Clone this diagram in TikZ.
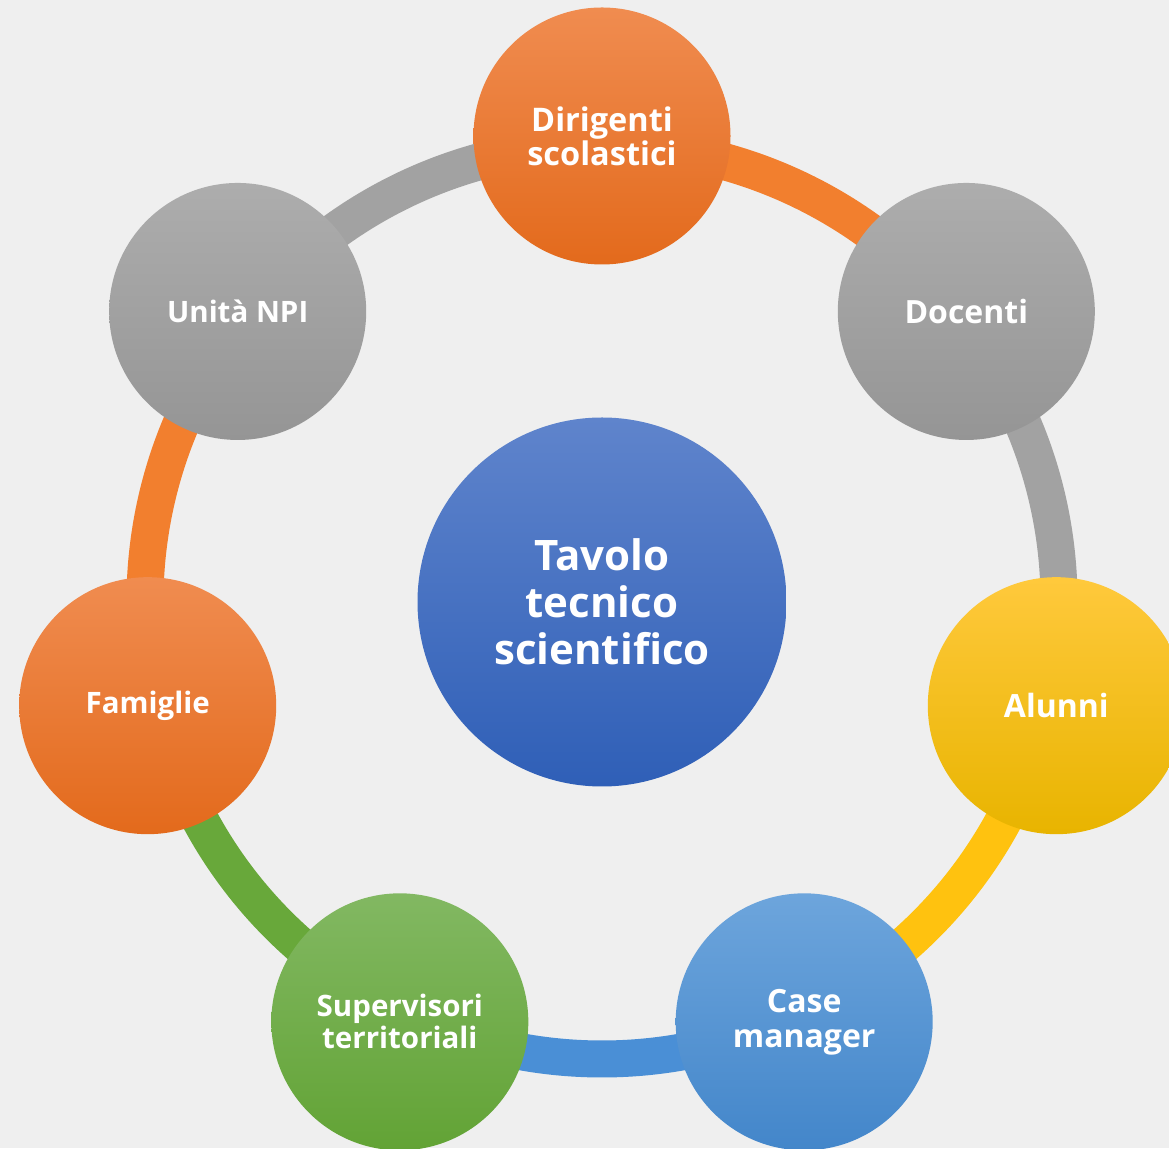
\documentclass[tikz,border=0pt]{standalone}
\usepackage{fontspec}
\setmainfont{Open Sans}
\definecolor{paper}{HTML}{EFEFEF}
\definecolor{orgTop}{HTML}{F08C50}
\definecolor{orgMid}{HTML}{F47B28}
\definecolor{orgBot}{HTML}{E36A1C}
\definecolor{gryTop}{HTML}{ADADAD}
\definecolor{gryBot}{HTML}{959595}
\definecolor{ylwTop}{HTML}{FFC93C}
\definecolor{ylwMid}{HTML}{FFC507}
\definecolor{ylwBot}{HTML}{E8B400}
\definecolor{bluTop}{HTML}{6DA5DC}
\definecolor{bluBot}{HTML}{4386CA}
\definecolor{grnTop}{HTML}{82B862}
\definecolor{grnBot}{HTML}{62A335}
\definecolor{hubTop}{HTML}{5F84CC}
\definecolor{hubMid}{HTML}{3F72CC}
\definecolor{hubBot}{HTML}{2F5FB7}
\definecolor{orgArc}{HTML}{F27F2E}
\definecolor{gryArc}{HTML}{A2A2A2}
\definecolor{ylwArc}{HTML}{FFC20F}
\definecolor{bluArc}{HTML}{4A8FD6}
\definecolor{grnArc}{HTML}{68A83A}

\begin{document}
\begin{tikzpicture}[x=1pt, y=1pt]
  \tikzstyle{every node}=[circle, inner sep=0pt, text=white, align=center]
  \tikzstyle{ball}=[minimum size=257pt]
  \tikzstyle{orgball}=[ball, top color=orgTop, middle color=orgMid, bottom color=orgBot]
  \tikzstyle{gryball}=[ball, top color=gryTop, bottom color=gryBot]
  \tikzstyle{ylwball}=[ball, top color=ylwTop, middle color=ylwMid, bottom color=ylwBot]
  \tikzstyle{bluball}=[ball, top color=bluTop, bottom color=bluBot]
  \tikzstyle{grnball}=[ball, top color=grnTop, bottom color=grnBot]
  \tikzstyle{hubball}=[minimum size=369pt, top color=hubTop, middle color=hubMid, bottom color=hubBot]
  \tikzstyle{link}=[line width=37pt, bend left=25.7, looseness=0.9]
  \fill[paper] (0,0) rectangle (1169,1148);
  \useasboundingbox (0,0) rectangle (1169,1148);
  \coordinate (c) at (602,546);
  % arc ends, inside each ball
  \foreach \name/\ang in {dir/90, doc/38.571, alu/-12.857, cm/-64.286,
                          sup/-115.714, fam/-167.143, npi/141.429}
    \path (c) ++(\ang:457) coordinate (e-\name);
  \draw[link, orgArc] (e-dir) to (e-doc);
  \draw[link, gryArc] (e-doc) to (e-alu);
  \draw[link, ylwArc] (e-alu) to (e-cm);
  \draw[link, bluArc] (e-cm) to (e-sup);
  \draw[link, grnArc] (e-sup) to (e-fam);
  \draw[link, orgArc] (e-fam) to (e-npi);
  \draw[link, gryArc] (e-npi) to (e-dir);
  \node[hubball, font=\fontsize{42}{47}\selectfont\bfseries] (hub) at (c)
    {Tavolo\\tecnico\\scientifico};
  \path (c) ++(90:466) node[orgball, font=\fontsize{32.5}{34}\selectfont\bfseries] (dir)
    {Dirigenti\\scolastici};
  \path (c) ++(38.571:466) node[gryball, font=\fontsize{32}{35}\selectfont\bfseries] (doc)
    {Docenti};
  \path (c) ++(-12.857:466) node[ylwball, font=\fontsize{32}{35}\selectfont\bfseries] (alu)
    {Alunni};
  \path (c) ++(-64.286:466) node[bluball, font=\fontsize{32}{35}\selectfont\bfseries] (cm)
    {Case\\manager};
  \path (c) ++(-115.714:466) node[grnball, font=\fontsize{29.5}{32}\selectfont\bfseries] (sup)
    {Supervisori\\territoriali};
  \path (c) ++(-167.143:466) node[orgball, font=\fontsize{29.5}{33}\selectfont\bfseries] (fam)
    {Famiglie};
  \path (c) ++(141.429:466) node[gryball, font=\fontsize{29.5}{33}\selectfont\bfseries] (npi)
    {Unità NPI};
\end{tikzpicture}
\end{document}
